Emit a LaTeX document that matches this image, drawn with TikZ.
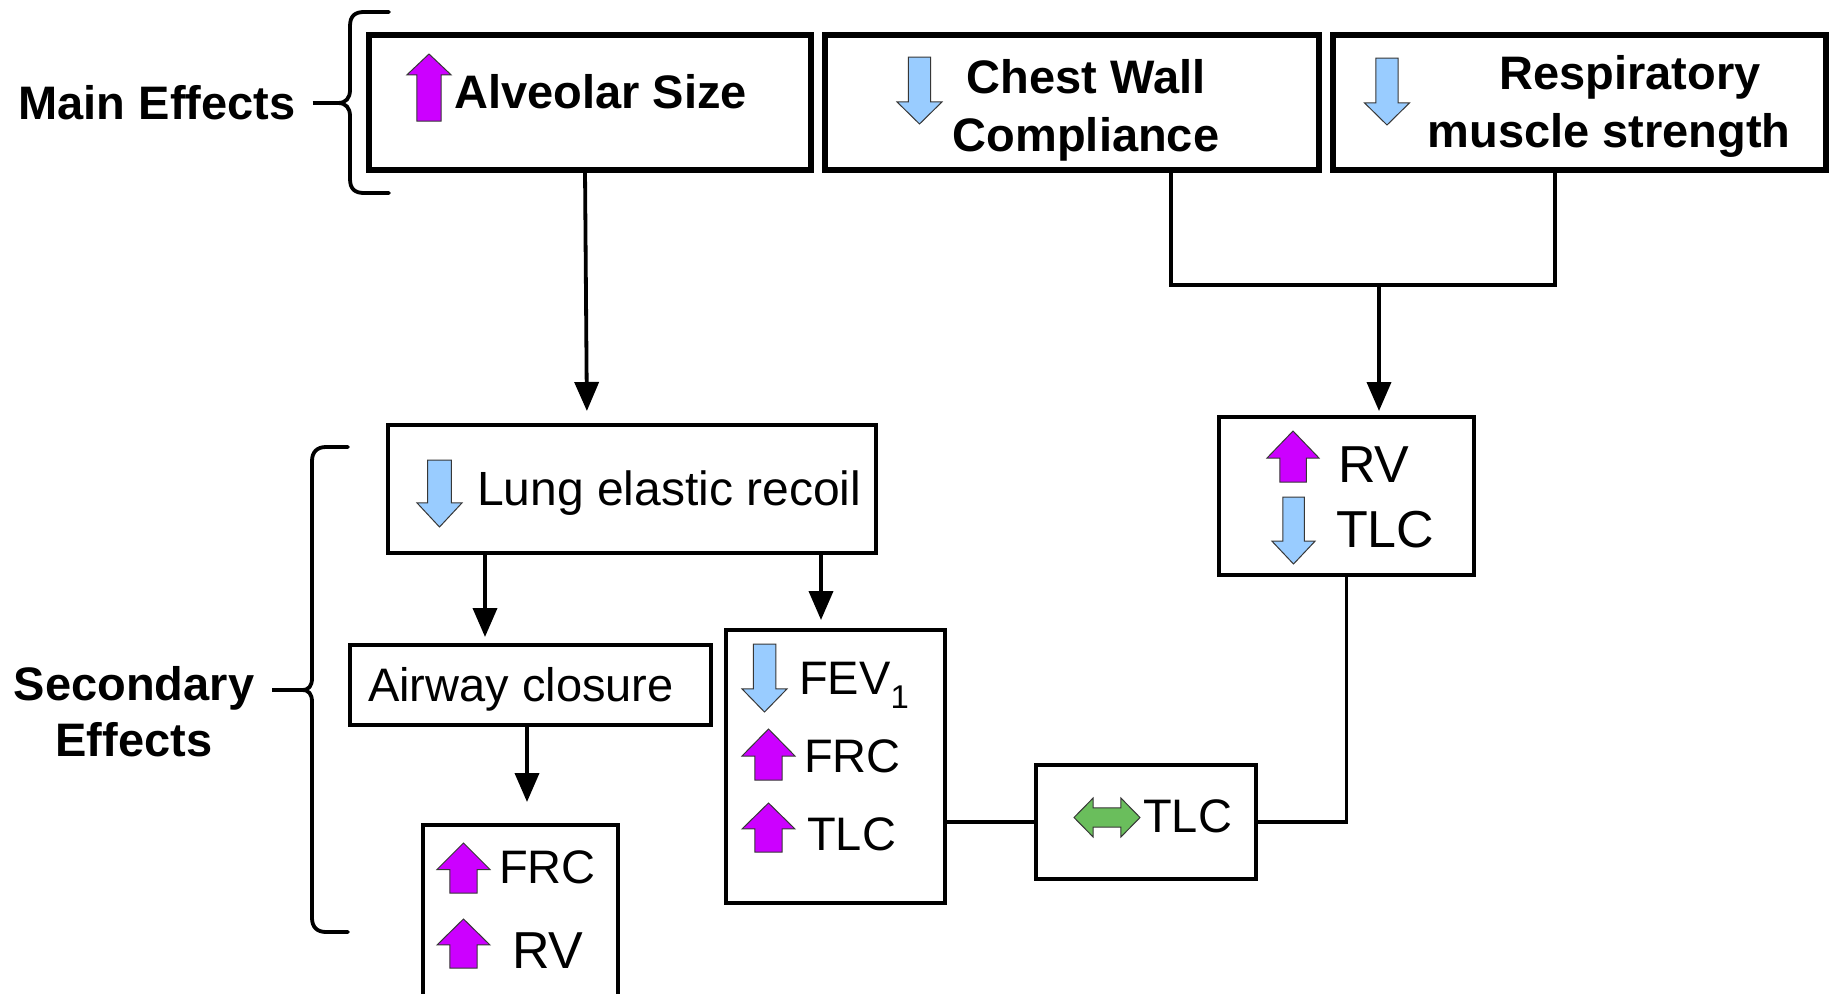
\documentclass[tikz,border=0pt]{standalone}
\usepackage{fontspec}
\setmainfont{Liberation Sans}
\usetikzlibrary{arrows.meta}
\definecolor{mag}{RGB}{204,0,255}
\definecolor{lblue}{RGB}{153,204,255}
\definecolor{lgreen}{RGB}{106,190,92}
\definecolor{edgec}{RGB}{55,55,55}
\tikzset{
  arrhead/.store in=\arrhead, arrshaft/.store in=\arrshaft,
  arrhead=0.33, arrshaft=0.5,
  uparr/.pic={\path[fill=mag,draw=edgec,line width=1pt]
    (0,-0.5) -- (0.5,-0.5+\arrhead) -- (\arrshaft/2,-0.5+\arrhead) -- (\arrshaft/2,0.5)
    -- (-\arrshaft/2,0.5) -- (-\arrshaft/2,-0.5+\arrhead) -- (-0.5,-0.5+\arrhead) -- cycle;},
  downarr/.pic={\path[fill=lblue,draw=edgec,line width=1pt]
    (0,0.5) -- (0.5,0.5-\arrhead) -- (\arrshaft/2,0.5-\arrhead) -- (\arrshaft/2,-0.5)
    -- (-\arrshaft/2,-0.5) -- (-\arrshaft/2,0.5-\arrhead) -- (-0.5,0.5-\arrhead) -- cycle;},
  dblarr/.pic={\path[fill=lgreen,draw=edgec,line width=1pt]
    (-0.5,0) -- (-0.5+\arrhead,-0.5) -- (-0.5+\arrhead,-\arrshaft/2) -- (0.5-\arrhead,-\arrshaft/2)
    -- (0.5-\arrhead,-0.5) -- (0.5,0) -- (0.5-\arrhead,0.5) -- (0.5-\arrhead,\arrshaft/2)
    -- (-0.5+\arrhead,\arrshaft/2) -- (-0.5+\arrhead,0.5) -- cycle;},
  topbox/.style={draw, line width=5.5pt, inner sep=0pt, outer sep=0pt},
  lowbox/.style={draw, line width=3.5pt, inner sep=0pt, outer sep=0pt},
  bigbold/.style={font=\fontsize{47}{58}\selectfont\bfseries, inner sep=0pt},
  sidebold/.style={font=\fontsize{47}{56}\selectfont\bfseries, inner sep=0pt},
  reg/.style={font=\fontsize{#1}{#1}\selectfont, inner sep=0pt, anchor=base west},
  conn/.style={line width=3.8pt},
  arr/.style={line width=3.8pt, -{Triangle[length=29pt,width=24pt]}},
  bracel/.style={line width=3.8pt, line cap=round, line join=round},
}
\begin{document}
\begin{tikzpicture}[x=1pt,y=-1pt]
\useasboundingbox (0,0) rectangle (1833,993);
\clip (0,0) rectangle (1833,993);
\fill[white] (0,0) rectangle (1833,993);

% ---- top boxes
\node[topbox, minimum width=442pt, minimum height=135pt] (alv) at (590,102.5) {};
\node[topbox, minimum width=494pt, minimum height=135pt] (chest) at (1072,102.5) {};
\node[topbox, minimum width=493pt, minimum height=135pt] (resp) at (1579.5,102.5) {};

\pic[xscale=44, yscale=67, arrhead=0.31, arrshaft=0.55] at (429,87.5) {uparr};
\node[bigbold, anchor=base west] (alvtxt) at (454,108) {Alveolar Size};

\pic[xscale=45, yscale=67, arrhead=0.33, arrshaft=0.49] at (919.5,90.5) {downarr};
\node[bigbold, align=center] (chesttxt) at (1086,110) {Chest Wall\\Compliance};

\pic[xscale=45, yscale=67, arrhead=0.33, arrshaft=0.49] at (1387,91.5) {downarr};
\node[bigbold, align=center] (resptxt) at (1609,106) {\hspace*{42pt}Respiratory\\muscle strength};

% ---- main effects label and brace
\node[bigbold, anchor=base] (mainfx) at (157,119.5) {Main Effects};
\coordinate (maintip) at (338,103);
\draw[bracel] (389,12) -- (364,12) .. controls (355,12) and (350,16) .. (350,26) -- (350,90)
  .. controls (350,98) and (346,103) .. (maintip)
  .. controls (346,103) and (350,108) .. (350,116) -- (350,179)
  .. controls (350,189) and (355,193) .. (364,193) -- (389,193);
\draw[conn] ([xshift=17pt]mainfx.east |- maintip) -- (maintip);

% ---- secondary boxes
\node[lowbox, minimum width=488pt, minimum height=128pt] (lung) at (632,489) {};
\pic[xscale=45, yscale=67, arrhead=0.36, arrshaft=0.53] at (439.5,493.5) {downarr};
\node[reg=48] (lungtxt) at (477,505) {Lung elastic recoil};

\node[lowbox, minimum width=255pt, minimum height=158pt] (rvtlc) at (1346.5,496) {};
\pic[xscale=52, yscale=51, arrhead=0.53, arrshaft=0.51] at (1293,456.5) {uparr};
\node[reg=52] (rvtxt) at (1338,482) {RV};
\pic[xscale=43, yscale=67, arrhead=0.34, arrshaft=0.5] at (1293.5,530.5) {downarr};
\node[reg=52] (tlctxt) at (1336,547) {TLC};

\node[lowbox, minimum width=361pt, minimum height=80pt] (airway) at (530.5,685) {};
\node[reg=47] (airtxt) at (368,701) {Airway closure};

\node[lowbox, minimum width=219pt, minimum height=273pt] (fev) at (835.5,766.5) {};
\pic[xscale=45, yscale=68, arrhead=0.34, arrshaft=0.5] at (764.5,678) {downarr};
\node[reg=47] (fevtxt) at (799,694) {FEV\textsubscript{1}};
\pic[xscale=53, yscale=51, arrhead=0.53, arrshaft=0.51] at (768.5,754.5) {uparr};
\node[reg=47] (frctxt) at (804,772) {FRC};
\pic[xscale=53, yscale=49, arrhead=0.53, arrshaft=0.51] at (768.5,827.5) {uparr};
\node[reg=47] (tlctxtb) at (807,850) {TLC};

\node[lowbox, minimum width=220pt, minimum height=114pt] (tlcb) at (1146,822) {};
\pic[xscale=66, yscale=39, arrhead=0.29, arrshaft=0.49] at (1107,817.5) {dblarr};
\node[reg=47] (tlcbtxt) at (1143,832) {TLC};

\node[lowbox, minimum width=195pt, minimum height=185pt] (frcrv) at (520.5,917.5) {};
\pic[xscale=53, yscale=50, arrhead=0.53, arrshaft=0.51] at (463.5,868) {uparr};
\node[reg=47] (frcbtxt) at (499,883) {FRC};
\pic[xscale=53, yscale=49, arrhead=0.53, arrshaft=0.51] at (463.5,943.5) {uparr};
\node[reg=52] (rvbtxt) at (512,968) {RV};

% ---- secondary effects label and brace
\node[sidebold, align=center] (secfx) at (134,712) {Secondary\\Effects};
\coordinate (sectip) at (302,690);
\draw[bracel] (348,447) -- (326,447) .. controls (317,447) and (312,452) .. (312,461) -- (312,678)
  .. controls (312,686) and (309,690) .. (sectip)
  .. controls (309,690) and (312,694) .. (312,702) -- (312,918)
  .. controls (312,927) and (317,932) .. (326,932) -- (348,932);
\coordinate (secdash) at (272,690);
\draw[conn] (secdash) -- (sectip);

% ---- connectors
\draw[arr, shorten >=14pt] ([xshift=-5pt]alv.south) -- ([xshift=-45pt]lung.north);

\coordinate (jl) at (1171,285);
\coordinate (jr) at (1555,285);
\coordinate (jm) at (1379,285);
\draw[conn] (chest.south -| jl) -- (jl) -- (jr) -- (resp.south -| jr);
\draw[arr, shorten >=6pt] (jm) -- (rvtlc.north -| jm);

\coordinate (la) at (485,0);
\coordinate (lb) at (821,0);
\coordinate (ac) at (527,0);
\draw[arr, shorten >=8pt] (lung.south -| la) -- (airway.north -| la);
\draw[arr, shorten >=10pt] (lung.south -| lb) -- (fev.north -| lb);
\draw[arr, shorten >=23pt] (airway.south -| ac) -- (frcrv.north -| ac);

\draw[conn] (fev.east |- tlcb.west) -- (tlcb.west);
\draw[conn] (tlcb.east) -| (rvtlc.south);
\end{tikzpicture}
\end{document}
